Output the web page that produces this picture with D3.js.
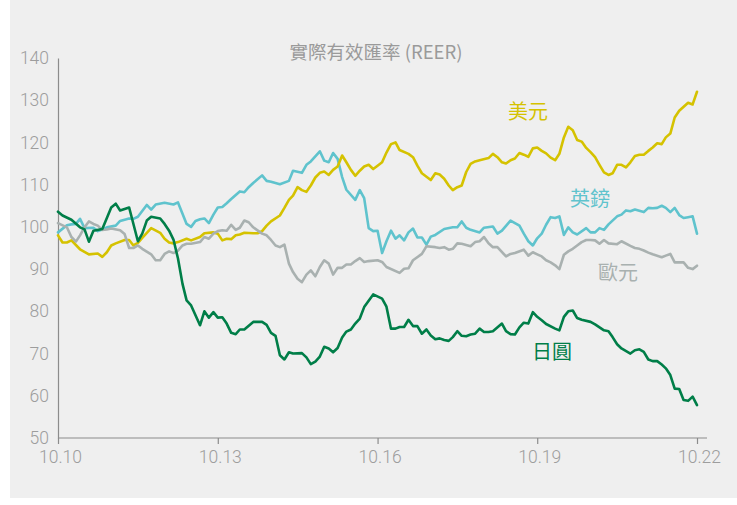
<!DOCTYPE html>
<html><head><meta charset="utf-8">
<script src="https://cdn.jsdelivr.net/npm/d3@7"></script>
<style>
html,body{margin:0;padding:0;background:#fff;}
svg{display:block;}
</style></head>
<body>
<svg id="chart" width="737" height="505"></svg>
<script>
// Months since Oct 2010, index value
const startMonth = new Date(2010, 9, 1);
const yTicks = [50,60,70,80,90,100,110,120,130,140];
const xTickYears = [2010, 2013, 2016, 2019, 2022];
const title = "實際有效匯率 (REER)";
const seriesNames = ["英鎊", "美元", "歐元", "日圓"];

const usd = [[0,98.0],[1,96.3],[2,96.3],[3,96.8],[5,94.7],[7,93.5],[9,93.7],[10,92.9],[11,94.0],[12,95.6],[13,96.1],[15,96.9],[16,96.9],[17,95.6],[18,96.2],[19,97.4],[21,99.7],[23,98.6],[24,97.2],[25,96.3],[26,96.1],[27,96.4],[29,97.2],[30,96.8],[32,97.6],[33,98.5],[35,98.7],[36,98.4],[37,96.8],[38,97.2],[39,97.1],[40,98.0],[41,98.2],[42,98.6],[44,98.5],[45,98.5],[46,99.0],[47,100.3],[48,101.3],[50,102.7],[51,104.5],[52,106.4],[53,107.4],[54,109.4],[55,108.7],[56,108.3],[57,109.8],[58,111.7],[59,112.8],[60,113.1],[61,112.3],[62,113.5],[63,114.3],[64,116.9],[65,115.3],[66,113.5],[67,112.1],[68,113.3],[69,114.3],[70,114.7],[71,113.7],[72,114.5],[73,115.3],[74,117.6],[75,119.6],[76,120.0],[77,118.2],[79,117.3],[80,116.5],[81,114.5],[82,112.7],[84,111.1],[85,112.7],[86,112.4],[87,111.4],[88,109.8],[89,108.7],[90,109.4],[91,109.8],[92,113.0],[93,114.9],[94,115.5],[95,115.8],[97,116.3],[98,117.3],[99,116.5],[100,115.3],[101,115.0],[102,115.8],[103,116.2],[104,117.5],[105,117.1],[106,116.6],[107,118.6],[108,118.8],[109,118.0],[110,117.4],[111,116.4],[112,115.8],[113,117.3],[114,121.2],[115,123.7],[116,122.9],[117,120.6],[118,120.2],[119,118.7],[120,117.7],[121,116.5],[122,114.7],[123,112.9],[124,112.3],[125,112.7],[126,114.7],[127,114.7],[128,114.1],[129,115.3],[130,116.8],[131,117.1],[132,117.1],[133,118.0],[134,118.8],[135,119.8],[136,119.6],[137,121.2],[138,122.1],[139,125.9],[140,127.5],[142,129.4],[143,129.0],[144,132.0]];

const gbp = [[0,98.7],[2,100.4],[3,100.6],[4,100.7],[5,101.9],[6,99.7],[8,99.8],[9,99.0],[10,99.4],[11,99.9],[13,100.3],[14,101.4],[16,102.0],[17,101.9],[18,102.4],[20,105.2],[21,104.1],[22,105.3],[24,105.7],[26,105.3],[27,105.8],[28,103.1],[29,100.7],[30,100.0],[31,101.4],[32,101.8],[33,102.0],[34,100.9],[35,102.9],[36,104.6],[37,104.7],[38,105.6],[39,106.6],[41,108.4],[42,108.2],[43,109.4],[44,110.4],[46,112.2],[47,110.9],[48,110.7],[50,110.1],[52,110.9],[53,113.3],[55,112.8],[56,114.7],[57,115.5],[59,117.9],[60,115.7],[61,115.3],[62,117.5],[63,116.1],[64,111.8],[65,108.8],[67,106.4],[68,108.7],[69,106.8],[70,99.7],[71,99.0],[72,99.1],[73,93.8],[74,96.6],[75,99.1],[76,97.2],[77,98.0],[78,96.8],[79,98.7],[80,99.6],[81,97.5],[82,97.5],[83,95.8],[84,97.7],[85,98.1],[87,99.5],[89,99.9],[90,99.9],[91,101.3],[92,99.8],[93,99.3],[95,98.7],[96,99.8],[98,100.1],[99,98.4],[100,99.1],[102,101.5],[104,100.3],[105,98.4],[106,96.6],[107,95.6],[108,97.3],[109,98.4],[110,100.5],[111,102.3],[112,102.1],[113,102.5],[114,98.1],[115,99.9],[116,98.7],[117,98.2],[119,99.7],[120,98.7],[121,98.7],[122,99.7],[123,99.3],[124,100.6],[126,102.5],[127,102.9],[128,103.9],[129,103.7],[130,104.1],[132,103.5],[133,104.5],[134,104.4],[135,104.5],[136,105.0],[137,104.5],[138,103.5],[139,104.5],[140,102.8],[141,102.1],[142,102.3],[143,102.5],[144,98.4]];

const eur = [[0,100.9],[2,99.9],[3,97.6],[4,96.5],[5,98.0],[6,99.9],[7,101.3],[8,100.7],[9,100.3],[10,99.3],[11,99.4],[12,99.6],[14,99.2],[15,98.3],[16,95.0],[17,95.0],[18,95.6],[19,94.8],[21,93.5],[22,92.1],[23,92.1],[24,93.6],[25,94.2],[26,93.8],[27,94.4],[28,95.6],[29,96.0],[30,96.0],[32,96.4],[33,97.6],[34,97.2],[35,98.4],[36,99.0],[37,99.2],[38,99.1],[39,100.5],[40,99.3],[41,99.8],[42,101.5],[43,101.1],[44,99.9],[46,98.4],[47,98.0],[48,96.9],[49,95.6],[50,95.2],[51,95.8],[52,91.3],[53,89.3],[54,87.7],[55,86.9],[56,88.7],[57,89.7],[58,88.3],[59,90.5],[60,92.1],[61,91.3],[62,88.7],[63,90.3],[64,90.3],[65,91.1],[66,91.1],[67,91.9],[68,92.6],[69,91.7],[70,91.9],[72,92.1],[73,91.7],[74,90.5],[77,89.1],[78,90.1],[79,90.2],[80,92.1],[82,93.6],[83,95.4],[85,95.2],[86,95.0],[87,95.2],[88,94.6],[89,94.8],[90,96.1],[91,96.0],[93,95.4],[94,96.4],[95,96.6],[96,97.6],[97,96.1],[98,95.2],[99,95.2],[101,93.0],[102,93.6],[103,93.8],[105,94.6],[106,93.2],[107,94.0],[108,93.5],[109,93.0],[110,92.1],[111,91.6],[112,90.9],[113,90.0],[114,93.4],[115,94.2],[116,94.8],[117,95.6],[118,96.4],[119,96.9],[120,96.9],[121,96.8],[122,96.0],[123,96.9],[124,96.1],[126,95.9],[127,96.6],[129,95.5],[130,95.0],[131,94.8],[132,94.4],[133,93.9],[134,93.5],[136,92.8],[137,93.2],[138,93.6],[139,91.6],[141,91.6],[142,90.3],[143,90.0],[144,90.8]];

const jpy = [[0,103.6],[1,102.7],[3,101.7],[5,99.9],[6,99.4],[7,96.5],[8,99.1],[10,99.5],[12,104.6],[13,105.5],[14,103.9],[16,104.6],[18,96.6],[19,98.4],[20,101.5],[21,102.4],[23,102.0],[24,100.7],[25,99.1],[26,97.0],[27,92.5],[28,86.5],[29,82.6],[30,81.4],[32,76.7],[33,80.0],[34,78.5],[35,79.8],[36,78.5],[37,78.6],[38,77.1],[39,74.9],[40,74.6],[41,75.7],[42,75.7],[44,77.5],[45,77.5],[46,77.5],[47,76.8],[48,74.9],[49,74.2],[50,69.6],[51,68.6],[52,70.3],[53,70.0],[55,70.1],[56,69.1],[57,67.5],[58,68.1],[59,69.3],[60,71.6],[61,71.2],[62,70.3],[63,71.3],[64,73.8],[65,75.2],[66,75.7],[67,77.1],[68,78.3],[69,81.0],[70,82.5],[71,84.0],[73,83.0],[74,81.1],[75,75.9],[76,75.9],[77,76.3],[78,76.3],[79,78.0],[80,76.5],[81,76.5],[82,74.7],[83,75.7],[84,74.3],[85,73.4],[86,73.6],[87,73.2],[88,73.0],[89,73.9],[90,75.3],[91,74.2],[92,74.1],[93,74.5],[94,74.7],[95,75.9],[96,75.1],[97,75.1],[98,75.3],[100,77.1],[101,75.3],[102,74.6],[103,74.5],[104,76.2],[105,77.3],[106,77.1],[107,79.8],[108,78.7],[109,77.9],[110,77.0],[112,75.9],[113,75.5],[114,78.7],[115,80.0],[116,80.2],[117,78.4],[118,78.0],[120,77.5],[121,76.9],[123,75.5],[124,75.3],[125,73.9],[126,72.2],[127,71.2],[129,70.0],[130,70.8],[131,71.0],[132,70.4],[133,68.6],[134,68.2],[135,68.2],[136,67.4],[137,66.5],[138,64.9],[139,61.7],[140,61.6],[141,59.0],[142,58.8],[143,59.8],[144,57.8]];

const seriesData = [gbp, usd, eur, jpy];
const colors = ["#5fc3cd", "#d5c200", "#a9b1b0", "#007e48"];
const labelPos = [[570,205.5],[508,119],[598,279.5],[532,358.5]];

const svg = d3.select("#chart");
svg.append("rect").attr("x",10).attr("y",0).attr("width",727).attr("height",498).attr("fill","#efefef");

const x = d3.scaleTime()
  .domain([startMonth, d3.timeMonth.offset(startMonth, 144)])
  .range([58, 697]);
const y = d3.scaleLinear().domain([50,140]).range([438, 58]);
const toDate = m => d3.timeMonth.offset(startMonth, m);

const numFont = "Roboto, 'Helvetica Neue', Arial, sans-serif";
const cjkFont = "'Noto Sans CJK TC', 'Noto Sans CJK SC', sans-serif";

// y axis
const yAxis = d3.axisLeft(y).tickValues(yTicks).tickSize(0).tickPadding(9);
const gy = svg.append("g").attr("transform","translate(58,0)").call(yAxis);
gy.select(".domain").attr("stroke","#8c8c8c").attr("stroke-width",1.2);
gy.selectAll("text").attr("fill","#9d9d9d").style("font-family",numFont).style("font-size","17.5px").style("font-weight",300);

// x axis
const xAxis = d3.axisBottom(x)
  .tickValues(xTickYears.map(yr => new Date(yr, 9, 1)))
  .tickFormat(d3.timeFormat("%m.%y")).tickSize(6).tickSizeOuter(0).tickPadding(7);
const gx = svg.append("g").attr("transform","translate(0,438)").call(xAxis);
gx.select(".domain").attr("stroke","#8c8c8c").attr("stroke-width",1.2).attr("d","M58,0H707");
gx.selectAll(".tick line").attr("stroke","#8c8c8c").attr("stroke-width",1.2);
gx.selectAll("text").attr("fill","#9d9d9d").attr("dx",2).style("font-family",numFont).style("font-size","17.5px").style("font-weight",300);

// title
svg.append("text").attr("x",376).attr("y",58.5).attr("text-anchor","middle")
  .attr("fill","#9a9a9a").style("font-family",cjkFont).style("font-size","18.5px").text(title);

// lines
const line = d3.line().x(d => x(toDate(d[0]))).y(d => y(d[1]));
seriesData.forEach((s,i) => {
  svg.append("path").datum(s).attr("d",line).attr("fill","none")
    .attr("stroke",colors[i]).attr("stroke-width",2.6)
    .attr("stroke-linejoin","round").attr("stroke-linecap","round");
});

// labels
seriesNames.forEach((n,i) => {
  svg.append("text").attr("x",labelPos[i][0]).attr("y",labelPos[i][1])
    .attr("fill",colors[i]).style("font-family",cjkFont).style("font-size","20px").text(n);
});
</script>
</body></html>
